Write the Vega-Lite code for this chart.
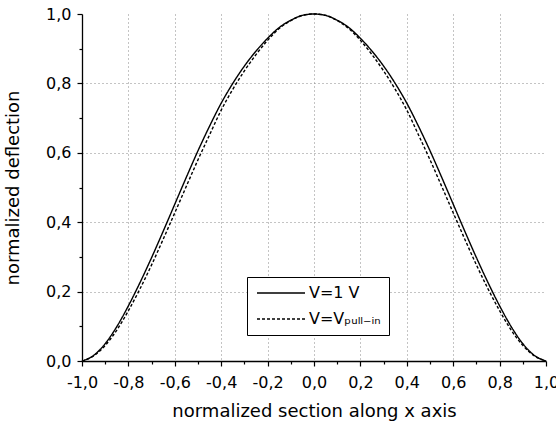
{
  "$schema": "https://vega.github.io/schema/vega-lite/v6.json",
  "width": 464,
  "height": 347,
  "autosize": {"type": "none"},
  "padding": {"left": 82, "top": 14, "right": 10, "bottom": 61},
  "background": "white",
  "config": {
    "view": {"stroke": null},
    "axis": {
      "domainColor": "black", "domainWidth": 1.3,
      "tickColor": "black", "tickWidth": 1.2,
      "labelFont": "DejaVu Sans", "labelFontSize": 16, "labelColor": "black",
      "titleFont": "DejaVu Sans", "titleFontSize": 18, "titleFontWeight": "normal", "titleColor": "black",
      "gridColor": "#888888", "gridDash": [1, 3], "gridWidth": 1
    }
  },
  "data": {"values": [
    {"x": -1.0, "y": 0.0, "series": "V=1 V"},
    {"x": -0.95, "y": 0.016, "series": "V=1 V"},
    {"x": -0.9, "y": 0.05, "series": "V=1 V"},
    {"x": -0.85, "y": 0.099, "series": "V=1 V"},
    {"x": -0.8, "y": 0.159, "series": "V=1 V"},
    {"x": -0.75, "y": 0.226, "series": "V=1 V"},
    {"x": -0.7, "y": 0.298, "series": "V=1 V"},
    {"x": -0.65, "y": 0.374, "series": "V=1 V"},
    {"x": -0.6, "y": 0.452, "series": "V=1 V"},
    {"x": -0.55, "y": 0.53, "series": "V=1 V"},
    {"x": -0.5, "y": 0.606, "series": "V=1 V"},
    {"x": -0.45, "y": 0.677, "series": "V=1 V"},
    {"x": -0.4, "y": 0.743, "series": "V=1 V"},
    {"x": -0.35, "y": 0.8, "series": "V=1 V"},
    {"x": -0.3, "y": 0.85, "series": "V=1 V"},
    {"x": -0.25, "y": 0.893, "series": "V=1 V"},
    {"x": -0.2, "y": 0.93, "series": "V=1 V"},
    {"x": -0.15, "y": 0.961, "series": "V=1 V"},
    {"x": -0.1, "y": 0.982, "series": "V=1 V"},
    {"x": -0.05, "y": 0.996, "series": "V=1 V"},
    {"x": 0.0, "y": 1.0, "series": "V=1 V"},
    {"x": 0.05, "y": 0.996, "series": "V=1 V"},
    {"x": 0.1, "y": 0.982, "series": "V=1 V"},
    {"x": 0.15, "y": 0.961, "series": "V=1 V"},
    {"x": 0.2, "y": 0.93, "series": "V=1 V"},
    {"x": 0.25, "y": 0.893, "series": "V=1 V"},
    {"x": 0.3, "y": 0.85, "series": "V=1 V"},
    {"x": 0.35, "y": 0.8, "series": "V=1 V"},
    {"x": 0.4, "y": 0.743, "series": "V=1 V"},
    {"x": 0.45, "y": 0.677, "series": "V=1 V"},
    {"x": 0.5, "y": 0.606, "series": "V=1 V"},
    {"x": 0.55, "y": 0.53, "series": "V=1 V"},
    {"x": 0.6, "y": 0.452, "series": "V=1 V"},
    {"x": 0.65, "y": 0.374, "series": "V=1 V"},
    {"x": 0.7, "y": 0.298, "series": "V=1 V"},
    {"x": 0.75, "y": 0.226, "series": "V=1 V"},
    {"x": 0.8, "y": 0.159, "series": "V=1 V"},
    {"x": 0.85, "y": 0.099, "series": "V=1 V"},
    {"x": 0.9, "y": 0.05, "series": "V=1 V"},
    {"x": 0.95, "y": 0.016, "series": "V=1 V"},
    {"x": 1.0, "y": 0.0, "series": "V=1 V"},
    {"x": -1.0, "y": 0.0, "series": "V=Vₚᵤₗₗ₋ᵢₙ"},
    {"x": -0.95, "y": 0.0145, "series": "V=Vₚᵤₗₗ₋ᵢₙ"},
    {"x": -0.9, "y": 0.045, "series": "V=Vₚᵤₗₗ₋ᵢₙ"},
    {"x": -0.85, "y": 0.089, "series": "V=Vₚᵤₗₗ₋ᵢₙ"},
    {"x": -0.8, "y": 0.145, "series": "V=Vₚᵤₗₗ₋ᵢₙ"},
    {"x": -0.75, "y": 0.208, "series": "V=Vₚᵤₗₗ₋ᵢₙ"},
    {"x": -0.7, "y": 0.277, "series": "V=Vₚᵤₗₗ₋ᵢₙ"},
    {"x": -0.65, "y": 0.351, "series": "V=Vₚᵤₗₗ₋ᵢₙ"},
    {"x": -0.6, "y": 0.427, "series": "V=Vₚᵤₗₗ₋ᵢₙ"},
    {"x": -0.55, "y": 0.504, "series": "V=Vₚᵤₗₗ₋ᵢₙ"},
    {"x": -0.5, "y": 0.58, "series": "V=Vₚᵤₗₗ₋ᵢₙ"},
    {"x": -0.45, "y": 0.652, "series": "V=Vₚᵤₗₗ₋ᵢₙ"},
    {"x": -0.4, "y": 0.723, "series": "V=Vₚᵤₗₗ₋ᵢₙ"},
    {"x": -0.35, "y": 0.783, "series": "V=Vₚᵤₗₗ₋ᵢₙ"},
    {"x": -0.3, "y": 0.836, "series": "V=Vₚᵤₗₗ₋ᵢₙ"},
    {"x": -0.25, "y": 0.883, "series": "V=Vₚᵤₗₗ₋ᵢₙ"},
    {"x": -0.2, "y": 0.924, "series": "V=Vₚᵤₗₗ₋ᵢₙ"},
    {"x": -0.15, "y": 0.958, "series": "V=Vₚᵤₗₗ₋ᵢₙ"},
    {"x": -0.1, "y": 0.981, "series": "V=Vₚᵤₗₗ₋ᵢₙ"},
    {"x": -0.05, "y": 0.996, "series": "V=Vₚᵤₗₗ₋ᵢₙ"},
    {"x": 0.0, "y": 1.0, "series": "V=Vₚᵤₗₗ₋ᵢₙ"},
    {"x": 0.05, "y": 0.996, "series": "V=Vₚᵤₗₗ₋ᵢₙ"},
    {"x": 0.1, "y": 0.981, "series": "V=Vₚᵤₗₗ₋ᵢₙ"},
    {"x": 0.15, "y": 0.958, "series": "V=Vₚᵤₗₗ₋ᵢₙ"},
    {"x": 0.2, "y": 0.924, "series": "V=Vₚᵤₗₗ₋ᵢₙ"},
    {"x": 0.25, "y": 0.883, "series": "V=Vₚᵤₗₗ₋ᵢₙ"},
    {"x": 0.3, "y": 0.836, "series": "V=Vₚᵤₗₗ₋ᵢₙ"},
    {"x": 0.35, "y": 0.783, "series": "V=Vₚᵤₗₗ₋ᵢₙ"},
    {"x": 0.4, "y": 0.723, "series": "V=Vₚᵤₗₗ₋ᵢₙ"},
    {"x": 0.45, "y": 0.652, "series": "V=Vₚᵤₗₗ₋ᵢₙ"},
    {"x": 0.5, "y": 0.58, "series": "V=Vₚᵤₗₗ₋ᵢₙ"},
    {"x": 0.55, "y": 0.504, "series": "V=Vₚᵤₗₗ₋ᵢₙ"},
    {"x": 0.6, "y": 0.427, "series": "V=Vₚᵤₗₗ₋ᵢₙ"},
    {"x": 0.65, "y": 0.351, "series": "V=Vₚᵤₗₗ₋ᵢₙ"},
    {"x": 0.7, "y": 0.277, "series": "V=Vₚᵤₗₗ₋ᵢₙ"},
    {"x": 0.75, "y": 0.208, "series": "V=Vₚᵤₗₗ₋ᵢₙ"},
    {"x": 0.8, "y": 0.145, "series": "V=Vₚᵤₗₗ₋ᵢₙ"},
    {"x": 0.85, "y": 0.089, "series": "V=Vₚᵤₗₗ₋ᵢₙ"},
    {"x": 0.9, "y": 0.045, "series": "V=Vₚᵤₗₗ₋ᵢₙ"},
    {"x": 0.95, "y": 0.0145, "series": "V=Vₚᵤₗₗ₋ᵢₙ"},
    {"x": 1.0, "y": 0.0, "series": "V=Vₚᵤₗₗ₋ᵢₙ"}
  ]},
  "mark": {"type": "line", "interpolate": "monotone", "color": "black", "strokeWidth": 1.4, "clip": false},
  "encoding": {
    "x": {
      "field": "x", "type": "quantitative",
      "scale": {"domain": [-1, 1], "nice": false, "zero": false},
      "axis": {
        "title": "normalized section along x axis",
        "values": [-1, -0.9, -0.8, -0.7, -0.6, -0.5, -0.4, -0.3, -0.2, -0.1, 0, 0.1, 0.2, 0.3, 0.4, 0.5, 0.6, 0.7, 0.8, 0.9, 1],
        "labelExpr": "abs(round(datum.value*10))%2==0 ? replace(replace(format(datum.value,'.1f'),'.',','),'−','-') : ''",
        "tickSize": {"condition": {"test": "abs(round(datum.value*10))%2==0", "value": 5}, "value": 3},
        "gridOpacity": {"condition": {"test": "abs(round(datum.value*10))%2==0 && abs(datum.value)<0.99", "value": 1}, "value": 0},
        "labelPadding": 8,
        "labelFlush": false,
        "labelOverlap": false,
        "titlePadding": 12
      }
    },
    "y": {
      "field": "y", "type": "quantitative",
      "scale": {"domain": [0, 1], "nice": false},
      "axis": {
        "title": "normalized deflection",
        "values": [0, 0.1, 0.2, 0.3, 0.4, 0.5, 0.6, 0.7, 0.8, 0.9, 1],
        "labelExpr": "abs(round(datum.value*10))%2==0 ? replace(format(datum.value,'.1f'),'.',',') : ''",
        "tickSize": {"condition": {"test": "abs(round(datum.value*10))%2==0", "value": 5}, "value": 3},
        "gridOpacity": {"condition": {"test": "abs(round(datum.value*10))%2==0 && datum.value>0.01 && datum.value<0.99", "value": 1}, "value": 0},
        "labelPadding": 6,
        "labelFlush": false,
        "labelOverlap": false,
        "titlePadding": 23
      }
    },
    "strokeDash": {
      "field": "series", "type": "nominal",
      "scale": {"domain": ["V=1 V", "V=Vₚᵤₗₗ₋ᵢₙ"], "range": [[1, 0], [3, 2]]},
      "legend": {
        "orient": "none", "legendX": 165, "legendY": 263,
        "title": null,
        "symbolType": "M-1,0H7", "symbolSize": 144,
        "symbolStrokeColor": "black", "symbolStrokeWidth": 1.4,
        "labelFont": "DejaVu Sans", "labelFontSize": 16, "labelColor": "black",
        "labelOffset": 38,
        "strokeColor": "black", "fillColor": "white",
        "padding": 8, "rowPadding": 10
      }
    }
  }
}
